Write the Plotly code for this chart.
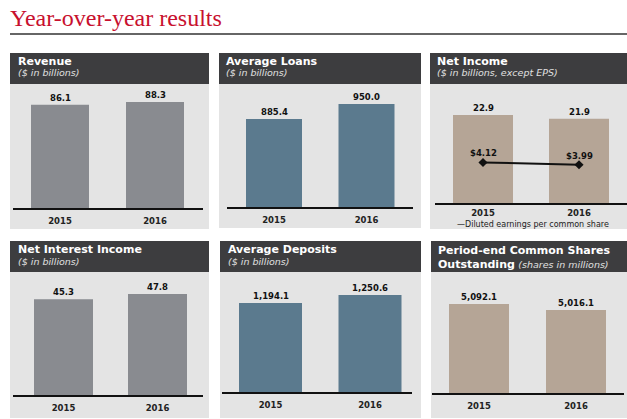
import plotly.graph_objects as go

W, H = 627, 419

# ---------------- data ----------------
years = ["2015", "2016"]
revenue = [86.1, 88.3]
avg_loans = [885.4, 950.0]
net_income = [22.9, 21.9]
eps = [4.12, 3.99]
net_interest_income = [45.3, 47.8]
avg_deposits = [1194.1, 1250.6]
shares_outstanding = [5092.1, 5016.1]

panel_titles = ["Revenue", "Average Loans", "Net Income",
                "Net Interest Income", "Average Deposits", "Period-end Common Shares"]
panel_subtitles = ["($ in billions)", "($ in billions)", "($ in billions, except EPS)",
                   "($ in billions)", "($ in billions)", "(shares in millions)"]
eps_legend = "Diluted earnings per common share"

GRAY = "#898b90"
BLUE = "#5b7a8e"
TAN = "#b5a596"
HEADER = "#3d3d3f"
BODY = "#e4e4e4"
RED = "#c8102e"
FONT = "DejaVu Sans"

def px_x(v):
    return v / W

def px_y(v):
    return 1 - v / H

# layout geometry per panel (pixels)
panels = [
    dict(values=revenue, color=GRAY, box=(10, 209, 53, 84, 229), ax=(13, 203), c=(60, 155), bw=58,
         base=208, ymin=0, ref=(88.3, 102), tx=16, stand=4),
    dict(values=avg_loans, color=BLUE, box=(219, 421, 53, 84, 228), ax=(227, 413), c=(274, 366.5), bw=56,
         base=207, ymin=505, ref=(950.0, 104), tx=224, stand=4),
    dict(values=net_income, color=TAN, box=(430, 627, 53, 84, 229), ax=(435, 627), c=(483, 579), bw=60,
         base=203, ymin=0, ref=(22.9, 115), tx=435, stand=1),
    dict(values=net_interest_income, color=GRAY, box=(10, 209, 241, 272, 418), ax=(13, 203), c=(63.5, 157.5), bw=59,
         base=395, ymin=0, ref=(47.8, 294), tx=16, stand=4),
    dict(values=avg_deposits, color=BLUE, box=(220, 421, 241, 272, 418), ax=(222, 412), c=(270.5, 370), bw=63,
         base=392, ymin=565, ref=(1250.6, 295), tx=226, stand=4),
    dict(values=shares_outstanding, color=TAN, box=(431, 627, 241, 272, 418), ax=(432, 624), c=(479, 576), bw=60,
         base=393, ymin=3965, ref=(5092.1, 304), tx=436, stand=4),
]

fig = go.Figure()
layout = dict(width=W, height=H, margin=dict(l=0, r=0, t=0, b=0),
              paper_bgcolor="white", plot_bgcolor="rgba(0,0,0,0)",
              showlegend=False, shapes=[], annotations=[])

for i, p in enumerate(panels, start=1):
    bx0, bx1, hy0, hy1, by1 = p["box"]
    # panel body and header
    layout["shapes"].append(dict(type="rect", xref="paper", yref="paper", layer="below",
                                 x0=px_x(bx0), x1=px_x(bx1), y0=px_y(by1), y1=px_y(hy1),
                                 fillcolor=BODY, line=dict(width=0)))
    layout["shapes"].append(dict(type="rect", xref="paper", yref="paper", layer="below",
                                 x0=px_x(bx0), x1=px_x(bx1), y0=px_y(hy1), y1=px_y(hy0),
                                 fillcolor=HEADER, line=dict(width=0)))
    # x axis
    ax0, ax1 = p["ax"]
    c0, c1 = p["c"]
    unit = c1 - c0
    xr = [(ax0 - c0) / unit, (ax1 - c0) / unit]
    # y axis
    top = hy1
    base = p["base"]
    rv, rpx = p["ref"]
    scale = (base - rpx) / (rv - p["ymin"])
    yr = [p["ymin"], p["ymin"] + (base - top) / scale]
    sfx = "" if i == 1 else str(i)
    layout["xaxis" + sfx] = dict(domain=[px_x(ax0), px_x(ax1)], range=xr, type="category",
                                 anchor="y" + sfx, showgrid=False, zeroline=False,
                                 showline=True, linecolor="#111", linewidth=2, ticks="",
                                 ticklabelstandoff=p["stand"],
                                 tickfont=dict(family=FONT, size=8.5, color="#222", weight="bold"),
                                 fixedrange=True)
    layout["yaxis" + sfx] = dict(domain=[px_y(base), px_y(top)], range=yr, anchor="x" + sfx,
                                 showgrid=False, zeroline=False, showline=False,
                                 showticklabels=False, ticks="", fixedrange=True)
    fig.add_trace(go.Bar(x=years, y=p["values"], width=p["bw"] / unit,
                         marker=dict(color=p["color"], line=dict(width=0)),
                         xaxis="x" + sfx, yaxis="y" + sfx, hoverinfo="skip"))
    # value labels just above each bar (category index used as position)
    for k, v in enumerate(p["values"]):
        layout["annotations"].append(dict(xref="x" + sfx, yref="y" + sfx, x=k, y=v,
                                          yshift=7, xanchor="center", yanchor="middle",
                                          showarrow=False, text=f"<b>{v:,.1f}</b>",
                                          font=dict(family=FONT, size=8.5, color="#111")))
    # header text
    row_top = hy0
    if i != 6:
        layout["annotations"].append(dict(xref="paper", yref="paper", x=px_x(p["tx"]), y=px_y(row_top + 9),
                                          xanchor="left", yanchor="middle", showarrow=False,
                                          text=f"<b>{panel_titles[i-1]}</b>",
                                          font=dict(family=FONT, size=11, color="white")))
        layout["annotations"].append(dict(xref="paper", yref="paper", x=px_x(p["tx"]), y=px_y(row_top + 20),
                                          xanchor="left", yanchor="middle", showarrow=False,
                                          text=f"<i>{panel_subtitles[i-1]}</i>",
                                          font=dict(family=FONT, size=9.5, color="#e0e0e0")))
    else:
        layout["annotations"].append(dict(xref="paper", yref="paper", x=px_x(p["tx"]), y=px_y(row_top + 16),
                                          xanchor="left", yanchor="middle", align="left", showarrow=False,
                                          text=(f"<b>{panel_titles[i-1]}</b><br><b>Outstanding</b> "
                                                f"<i><span style='font-size:9.5px;color:#e0e0e0'>{panel_subtitles[i-1]}</span></i>"),
                                          font=dict(family=FONT, size=11, color="white")))

# EPS line on a secondary axis in the Net Income panel
eps_base, eps_top = 203, 84
eps_ymin = 1.72
eps_scale = (eps_base - 162.5) / (4.12 - eps_ymin)
layout["yaxis7"] = dict(domain=layout["yaxis3"]["domain"], range=[eps_ymin, eps_ymin + (eps_base - eps_top) / eps_scale],
                        anchor="x3", overlaying="y3", showgrid=False, zeroline=False,
                        showticklabels=False, ticks="", fixedrange=True)
fig.add_trace(go.Scatter(x=years, y=eps, xaxis="x3", yaxis="y7", mode="lines+markers",
                         line=dict(color="#111", width=2),
                         marker=dict(symbol="diamond", size=7, color="#111"),
                         hoverinfo="skip", cliponaxis=False))
for k, v in enumerate(eps):
    layout["annotations"].append(dict(xref="x3", yref="y7", x=k, y=v,
                                      yshift=9, xanchor="center", yanchor="middle",
                                      showarrow=False, text=f"<b>${v:.2f}</b>",
                                      font=dict(family=FONT, size=8.5, color="#111")))

layout["annotations"].append(dict(xref="paper", yref="paper", x=px_x(533), y=px_y(224),
                                  xanchor="center", yanchor="middle", showarrow=False,
                                  text="\u2014" + eps_legend,
                                  font=dict(family=FONT, size=8, color="#222")))

# page title and rule
layout["annotations"].append(dict(xref="paper", yref="paper", x=px_x(8), y=px_y(18),
                                  xanchor="left", yanchor="middle", showarrow=False,
                                  text="Year-over-year results",
                                  font=dict(family="Liberation Serif", size=24, color=RED)))
layout["shapes"].append(dict(type="line", xref="paper", yref="paper",
                             x0=px_x(10), x1=1, y0=px_y(34), y1=px_y(34),
                             line=dict(color="#333", width=1.5)))

fig.update_layout(**layout)
fig.write_html("out.html", config={"displayModeBar": False},
               post_script="document.body.style.margin='0px';document.body.style.overflow='hidden';")
